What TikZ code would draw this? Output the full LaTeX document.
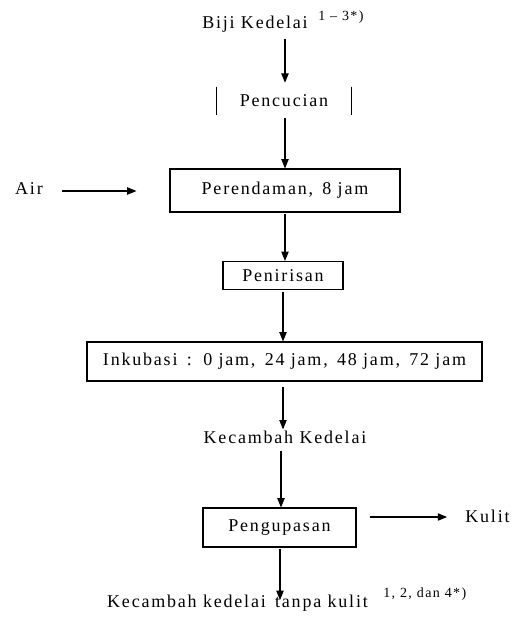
\documentclass[tikz,border=0pt]{standalone}
\usepackage{fontspec}
\setmainfont{Liberation Serif}[LetterSpace=10]
\usetikzlibrary{arrows.meta,calc}
\begin{document}
\begin{tikzpicture}[x=0.75pt,y=-0.75pt,
  every node/.style={font=\fontsize{13.5}{15}\selectfont, inner sep=0pt},
  box/.style={draw, line width=0.8pt},
  sup/.style={font=\fontsize{10.5}{11}\selectfont},
  arr/.style={line width=0.8pt, -{Triangle[length=7pt,width=5.5pt]}}]
\useasboundingbox (0,0) rectangle (516,617);
% nodes
\node (biji) at (255,24) {Biji Kedelai};
\node[sup, anchor=west] (bijisup) at (318,17) {1 -- 3*)};
\node[minimum width=134*0.75pt, minimum height=28*0.75pt] (cuci) at (284,101) {\raisebox{-3.5pt}{Pencucian}};
\draw[line width=0.8pt] (cuci.north west) -- (cuci.south west);
\draw[line width=0.8pt] (cuci.north east) -- (cuci.south east);
\node[box, minimum width=230*0.75pt, minimum height=43*0.75pt] (rendam) at (285,190.5) {Perendaman,\, 8 jam};
\node (air) at (29,189) {Air};
\node[box, minimum width=120*0.75pt, minimum height=28*0.75pt] (tiris) at (283,275.5) {Penirisan};
\node[box, minimum width=395*0.75pt, minimum height=39*0.75pt] (ink) at (284.5,361.5) {Inkubasi\, :\, 0 jam,\, 24 jam,\, 48 jam,\, 72 jam};
\node (kec) at (285,437) {Kecambah Kedelai};
\node[box, minimum width=153*0.75pt, minimum height=39*0.75pt] (kupas) at (279.5,527.5) {Pengupasan};
\node (kulit) at (487.5,516) {Kulit};
\node (akhir) at (237.5,603) {Kecambah kedelai\, tanpa kulit};
\node[sup, anchor=west] (akhirsup) at (383,594) {1, 2, dan 4*)};
% arrows
\draw[arr] ($(biji.south -| cuci.north)+(1,7)$) -- ($(cuci.north)+(1,-4)$);
\draw[arr] ($(cuci.south)+(1,3)$) -- (rendam.north);
\draw[arr] ($(rendam.south)+(0,1)$) -- (tiris.north -| rendam.south);
\draw[arr] ($(tiris.south)+(0,2)$) -- (ink.north -| tiris.south);
\draw[arr] ($(ink.south -| kec.north)+(-2,5)$) -- ($(kec.north)+(-2,-1)$);
\draw[arr] ($(kec.south)+(-4,7)$) -- ($(kupas.north)+(1.5,0)$);
\draw[arr] ($(kupas.south)+(0.5,1)$) -- ($(akhir.north -| kupas.south)+(0.5,5.5)$);
\draw[arr] ($(air.east)+(19,2)$) -- ($(rendam.west)+(-33,0.5)$);
\draw[arr] ($(kupas.east)+(13,-10.5)$) -- ($(kulit.west)+(-18,1)$);
\end{tikzpicture}
\end{document}
